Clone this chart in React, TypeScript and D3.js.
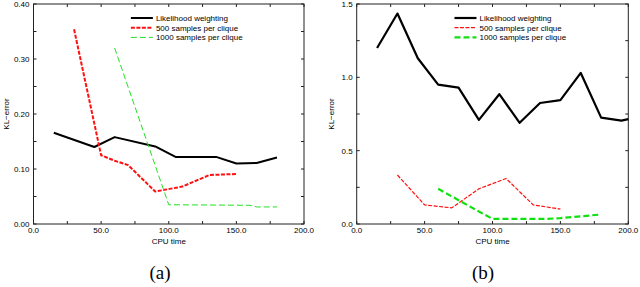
import * as d3 from 'd3';
import React from 'react';

// CPU time / KL-error readings, panel (a)
const lwA: [number, number][] = [
  [15, 0.166], [45, 0.14], [60, 0.158], [90, 0.141], [105, 0.122],
  [135, 0.122], [150, 0.11], [165, 0.111], [180, 0.121],
];
const s500A: [number, number][] = [
  [30, 0.354], [50, 0.125], [60, 0.115], [70, 0.107], [90, 0.059],
  [110, 0.068], [130, 0.089], [150, 0.091],
];
const s1000A: [number, number][] = [
  [60, 0.32], [100, 0.035], [160, 0.034], [165, 0.031], [180, 0.031],
];

// panel (b)
const lwB: [number, number][] = [
  [15, 1.2], [30, 1.435], [45, 1.13], [60, 0.95], [75, 0.93], [90, 0.71],
  [105, 0.885], [120, 0.69], [135, 0.825], [150, 0.845], [165, 1.03],
  [180, 0.725], [195, 0.705], [200, 0.715],
];
const s500B: [number, number][] = [
  [30, 0.334], [50, 0.13], [60, 0.12], [70, 0.11], [90, 0.24],
  [110, 0.31], [130, 0.13], [150, 0.102],
];
const s1000B: [number, number][] = [
  [60, 0.24], [90, 0.085], [100, 0.035], [140, 0.035], [150, 0.04], [180, 0.065],
];

const xTicks = [0, 50, 100, 150, 200];
const yTicksA = [0, 0.1, 0.2, 0.3, 0.4];
const yTicksB = [0, 0.5, 1.0, 1.5];
const seriesNames = ['Likelihood weighting', '500 samples per clique', '1000 samples per clique'];

const FONT = 'Liberation Sans, Arial, sans-serif';

type Style = { color: string; width: number; dash: string | null };

function Panel({
  left, right, yMax, yTicks, yFmt, yMinor, series, styles, caption, captionX, labelX,
}: {
  left: number; right: number; yMax: number; yTicks: number[]; yFmt: string;
  yMinor: number; series: [number, number][][]; styles: Style[];
  caption: string; captionX: number; labelX: number;
}) {
  const top = 4, bottom = 224;
  const x = d3.scaleLinear().domain([0, 200]).range([left, right]);
  const y = d3.scaleLinear().domain([0, yMax]).range([bottom, top]);
  const line = d3.line<[number, number]>().x(d => x(d[0])).y(d => y(d[1]));
  const fmt = d3.format(yFmt);
  const xMinor = d3.range(0, 201, 25);
  const yMinorTicks = d3.range(0, yMax + 1e-9, yMinor);
  const legX = left + (right - left) * 0.36;

  return (
    <g>
      {xMinor.map(t => (
        <g key={'xt' + t}>
          <line x1={x(t)} x2={x(t)} y1={bottom} y2={bottom - 3} stroke="#222" />
          <line x1={x(t)} x2={x(t)} y1={top} y2={top + 3} stroke="#222" />
        </g>
      ))}
      {yMinorTicks.map(t => (
        <g key={'yt' + t}>
          <line x1={left} x2={left + 3} y1={y(t)} y2={y(t)} stroke="#222" />
          <line x1={right} x2={right - 3} y1={y(t)} y2={y(t)} stroke="#222" />
        </g>
      ))}
      <rect x={left} y={top} width={right - left} height={bottom - top} fill="none" stroke="#222" strokeWidth={1} />
      {xTicks.map(t => (
        <text key={'xl' + t} x={x(t)} y={233} fontSize={8} fontFamily={FONT} textAnchor="middle" fill="#000">
          {t.toFixed(1)}
        </text>
      ))}
      {yTicks.map(t => (
        <text key={'yl' + t} x={left - 4} y={y(t) + 3} fontSize={8} fontFamily={FONT} textAnchor="end" fill="#000">
          {fmt(t)}
        </text>
      ))}
      <text x={(left + right) / 2} y={244} fontSize={8} fontFamily={FONT} textAnchor="middle" fill="#000">CPU time</text>
      <text transform={`translate(${labelX},${(top + bottom) / 2}) rotate(-90)`} fontSize={8} fontFamily={FONT} textAnchor="middle" fill="#000">KL−error</text>
      {series.map((s, i) => (
        <path key={'s' + i} d={line(s) ?? ''} fill="none" stroke={styles[i].color} strokeWidth={styles[i].width}
          strokeDasharray={styles[i].dash ?? undefined} strokeLinejoin="round" />
      ))}
      {seriesNames.map((n, i) => (
        <g key={'lg' + i}>
          <line x1={legX} x2={legX + 22} y1={18 + i * 9.7} y2={18 + i * 9.7} stroke={styles[i].color}
            strokeWidth={styles[i].width} strokeDasharray={styles[i].dash ?? undefined} />
          <text x={legX + 25} y={21 + i * 9.7} fontSize={8} fontFamily={FONT} fill="#000">{n}</text>
        </g>
      ))}
      <text x={captionX} y={279} fontSize={19} fontFamily="Liberation Serif, Times New Roman, serif" textAnchor="middle" fill="#000">
        {caption}
      </text>
    </g>
  );
}

export default function App() {
  const stylesA: Style[] = [
    { color: '#000', width: 2, dash: null },
    { color: '#ff1010', width: 2, dash: '4,1.5' },
    { color: '#22e022', width: 1, dash: '6,3' },
  ];
  const stylesB: Style[] = [
    { color: '#000', width: 2.2, dash: null },
    { color: '#ff1010', width: 1.2, dash: '4,1.5' },
    { color: '#10e010', width: 2.2, dash: '6,3' },
  ];
  return (
    <svg width={640} height={287} style={{ position: 'absolute', left: 0, top: 0, background: '#fff' }}>
      <rect width={640} height={287} fill="#fff" />
      <Panel left={33.5} right={304} yMax={0.4} yTicks={yTicksA} yFmt=".2f" yMinor={0.05}
        series={[lwA, s500A, s1000A]} styles={stylesA} caption="(a)" captionX={160} labelX={9} />
      <Panel left={356.7} right={628.3} yMax={1.5} yTicks={yTicksB} yFmt=".1f" yMinor={0.25}
        series={[lwB, s500B, s1000B]} styles={stylesB} caption="(b)" captionX={483} labelX={334} />
    </svg>
  );
}
